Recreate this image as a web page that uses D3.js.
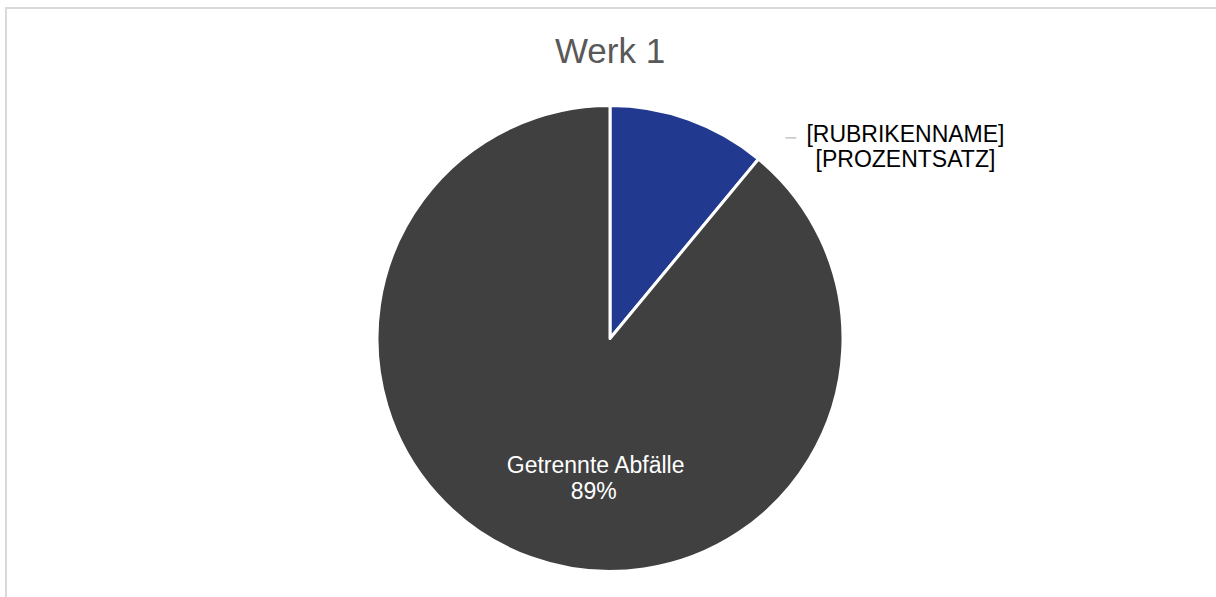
<!DOCTYPE html>
<html>
<head>
<meta charset="utf-8">
<script src="https://cdn.jsdelivr.net/npm/d3@7"></script>
<style>
  body { margin: 0; background: #fff; }
  svg { display: block; font-family: Arial, "Liberation Sans", sans-serif; }
</style>
</head>
<body>
<script>
const width = 1216;
const height = 597;

const title = 'Werk 1';
const categories = ['[RUBRIKENNAME]', 'Getrennte Abfälle'];
const values = [11, 89];
const percentLabels = ['[PROZENTSATZ]', '89%'];

const cx = 610;
const cy = 338.5;
const radius = 233;

const color = d3.scaleOrdinal()
  .domain(categories)
  .range(['#213a8f', '#404040']);

const svg = d3.select('body')
  .append('svg')
    .attr('width', width)
    .attr('height', height);

// chart frame, runs off the right and bottom edge
svg.append('rect')
  .attr('x', 6)
  .attr('y', 8)
  .attr('width', 1220)
  .attr('height', 620)
  .attr('fill', 'none')
  .attr('stroke', '#d9d9d9')
  .attr('stroke-width', 2);

svg.append('text')
  .attr('x', cx)
  .attr('y', 63)
  .attr('text-anchor', 'middle')
  .attr('fill', '#595959')
  .style('font-size', '35px')
  .text(title);

const pie = d3.pie()
  .sort(null)
  .value((d) => d.value);

const arc = d3.arc()
  .innerRadius(0)
  .outerRadius(radius);

const labelArc = d3.arc()
  .innerRadius(radius * 0.6)
  .outerRadius(radius * 0.6);

const outerArc = d3.arc()
  .innerRadius(radius * 1.07)
  .outerRadius(radius * 1.07);

const data = categories.map((c, i) => ({ label: c, value: values[i], pct: percentLabels[i] }));
const arcs = pie(data);

const g = svg.append('g')
  .attr('transform', `translate(${cx}, ${cy})`);

g.selectAll('path.slice')
  .data(arcs)
  .enter()
  .append('path')
    .attr('class', 'slice')
    .attr('d', arc)
    .attr('fill', (d) => color(d.data.label))
    .attr('stroke', '#fff')
    .attr('stroke-width', 3)
    .attr('stroke-linejoin', 'round');

// inside label for the big slice
const inner = arcs[1];
const ip = labelArc.centroid(inner);
const innerText = g.append('text')
  .attr('text-anchor', 'middle')
  .attr('fill', '#fff')
  .style('font-size', '23px')
  .attr('transform', `translate(${ip[0] + 33}, ${ip[1] + 3})`);
innerText.append('tspan').attr('x', 0).attr('y', 0).text(inner.data.label);
innerText.append('tspan').attr('x', -2).attr('y', 25.5).text(inner.data.pct);

// outside label for the small slice
const outer = arcs[0];
const op = outerArc.centroid(outer);
const lx = op[0] + 102;
const ly = op[1] + 34;

g.append('line')
  .attr('x1', lx - 11)
  .attr('x2', lx)
  .attr('y1', ly)
  .attr('y2', ly)
  .attr('stroke', '#a6a6a6')
  .attr('stroke-width', 1);

const outerText = g.append('text')
  .attr('text-anchor', 'middle')
  .attr('fill', '#000')
  .style('font-size', '23px')
  .attr('transform', `translate(${lx + 109}, ${ly})`);
outerText.append('tspan').attr('x', 0).attr('y', 4).text(outer.data.label);
outerText.append('tspan').attr('x', 0).attr('y', 29.5).text(outer.data.pct);
</script>
</body>
</html>
